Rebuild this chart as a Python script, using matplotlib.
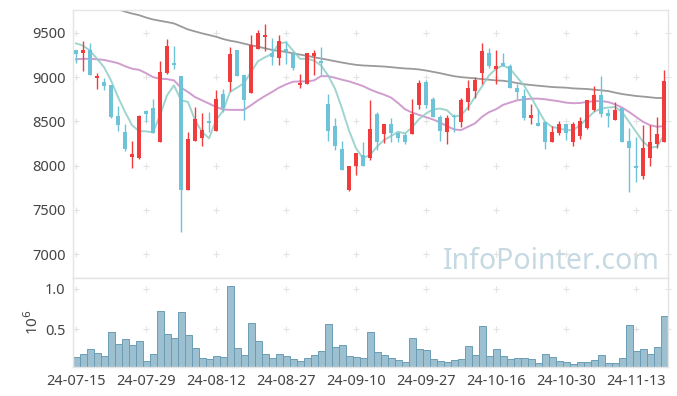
import numpy as np
import pandas as pd
import matplotlib
matplotlib.use('Agg')
import matplotlib.pyplot as plt

plt.rcParams['font.family'] = ['Noto Sans', 'DejaVu Sans']

# trading days (KRX holidays removed)
holidays = ['2024-08-15', '2024-09-16', '2024-09-17', '2024-09-18',
            '2024-10-01', '2024-10-03', '2024-10-09']
dates = pd.bdate_range('2024-07-15', '2024-11-19')
dates = dates[~dates.isin(pd.to_datetime(holidays))]

opens = [9313, 9272, 9313, 8991, 8942, 8908, 8560, 8380, 8103, 8088,
         8616, 8650, 8272, 9047, 9159, 9009, 7729, 8283, 8317, 8504,
         8395, 8807, 8946, 9313, 9021, 8826, 9316, 9451, 9275, 9215,
         9320, 9264, 8916, 8927, 9245, 9189, 8702, 8448, 8186, 7721,
         7991, 8122, 8092, 8583, 8354, 8466, 8373, 8347, 8358, 8684,
         8942, 8751, 8545, 8384, 8560, 8496, 8721, 8845, 9047, 9272,
         9088, 9159, 9122, 8882, 8785, 8541, 8478, 8496, 8272, 8365,
         8466, 8265, 8339, 8429, 8627, 8796, 8601, 8515, 8657, 8279,
         7998, 7878, 8092, 8245, 8272]
highs = [9313, 9406, 9388, 9051, 8994, 8908, 8676, 8466, 8279, 8575,
         8635, 8755, 9189, 9433, 9358, 9009, 8384, 8665, 8590, 8609,
         8852, 8863, 9346, 9313, 9021, 9481, 9534, 9601, 9444, 9478,
         9414, 9283, 9039, 9275, 9309, 9346, 8815, 8534, 8279, 7998,
         8141, 8272, 8747, 8609, 8466, 8534, 8384, 8366, 8758, 8972,
         8965, 8777, 8571, 8571, 8582, 8770, 8965, 9002, 9388, 9332,
         9309, 9275, 9152, 8920, 8871, 8702, 8646, 8496, 8448, 8504,
         8466, 8489, 8553, 8747, 8897, 9009, 8646, 8721, 8657, 8422,
         8328, 8459, 8459, 8552, 9084]
lows = [9163, 9069, 9024, 8871, 8852, 8534, 8395, 8170, 7972, 8070,
        8489, 8373, 8272, 9040, 9096, 7253, 7729, 8283, 8227, 8384,
        8395, 8609, 8841, 9013, 8515, 8826, 9316, 9301, 9133, 9133,
        9152, 9078, 8882, 8927, 9028, 9028, 8279, 8178, 7953, 7710,
        7890, 7991, 8066, 8178, 8253, 8272, 8272, 8246, 8358, 8646,
        8657, 8553, 8279, 8242, 8384, 8440, 8627, 8770, 8920, 9103,
        8927, 9122, 8882, 8758, 8515, 8466, 8452, 8186, 8272, 8347,
        8291, 8227, 8298, 8414, 8616, 8553, 8441, 8515, 8272, 7699,
        7816, 7848, 7991, 8197, 8272]
closes = [9260, 9313, 9024, 9013, 8901, 8553, 8459, 8189, 8127, 8560,
          8586, 8373, 9054, 9358, 9141, 7729, 8302, 8526, 8403, 8485,
          8758, 8654, 9257, 9013, 8747, 9369, 9504, 9481, 9227, 9414,
          9302, 9104, 8935, 9275, 9279, 9159, 8395, 8227, 7953, 7998,
          8141, 7991, 8414, 8272, 8466, 8373, 8317, 8272, 8583, 8935,
          8684, 8553, 8395, 8534, 8545, 8740, 8882, 8965, 9302, 9126,
          9122, 9126, 8882, 8833, 8541, 8571, 8452, 8272, 8377, 8466,
          8365, 8466, 8504, 8747, 8796, 8583, 8560, 8627, 8272, 8205,
          7972, 8204, 8269, 8358, 8953]
# volume in millions
volume = [0.153, 0.190, 0.252, 0.203, 0.165, 0.463, 0.314, 0.376, 0.302, 0.351,
          0.103, 0.190, 0.723, 0.438, 0.388, 0.711, 0.426, 0.264, 0.140, 0.128,
          0.165, 0.153, 1.033, 0.264, 0.178, 0.574, 0.351, 0.190, 0.140, 0.190,
          0.165, 0.128, 0.103, 0.140, 0.178, 0.227, 0.562, 0.277, 0.302, 0.165,
          0.153, 0.140, 0.463, 0.215, 0.178, 0.140, 0.116, 0.091, 0.388, 0.252,
          0.240, 0.128, 0.103, 0.091, 0.116, 0.128, 0.289, 0.178, 0.537, 0.165,
          0.252, 0.165, 0.128, 0.140, 0.140, 0.128, 0.079, 0.190, 0.153, 0.103,
          0.091, 0.066, 0.091, 0.091, 0.116, 0.178, 0.079, 0.079, 0.140, 0.550,
          0.227, 0.252, 0.190, 0.277, 0.661]
ma5 = [9383, 9357, 9301, 9208, 9114, 8964, 8776, 8608, 8458, 8391,
       8388, 8376, 8570, 8795, 8908, 8739, 8720, 8515, 8383, 8309,
       8515, 8620, 8833, 8882, 8934, 9058, 9181, 9226, 9264, 9383,
       9394, 9301, 9208, 9208, 9189, 9133, 9021, 8871, 8646, 8398,
       8197, 8084, 8121, 8215, 8290, 8335, 8383, 8365, 8432, 8526,
       8590, 8635, 8646, 8627, 8552, 8571, 8657, 8776, 8897, 9021,
       9096, 9133, 9096, 9001, 8908, 8776, 8635, 8496, 8440, 8421,
       8402, 8402, 8458, 8533, 8608, 8646, 8657, 8664, 8608, 8496,
       8383, 8271, 8203, 8215, 8346]
ma20 = [9203, 9208, 9208, 9203, 9196, 9178, 9159, 9125, 9096, 9084,
        9046, 9001, 8983, 8979, 8964, 8882, 8833, 8776, 8739, 8702,
        8664, 8635, 8631, 8631, 8631, 8683, 8739, 8788, 8833, 8882,
        8919, 8949, 8953, 8953, 8964, 9012, 9012, 8994, 8972, 8953,
        8927, 8900, 8862, 8830, 8803, 8770, 8709, 8638, 8601, 8574,
        8548, 8522, 8489, 8447, 8410, 8402, 8440, 8478, 8552, 8605,
        8638, 8687, 8713, 8739, 8749, 8758, 8758, 8751, 8739, 8728,
        8713, 8706, 8709, 8720, 8728, 8731, 8720, 8694, 8657, 8608,
        8552, 8496, 8458, 8440, 8447]
ma60 = [9900, 9878, 9856, 9834, 9812, 9790, 9768, 9742, 9720, 9702,
        9675, 9653, 9638, 9624, 9608, 9574, 9540, 9518, 9496, 9477,
        9458, 9432, 9413, 9399, 9380, 9361, 9346, 9327, 9309, 9298,
        9286, 9271, 9256, 9242, 9226, 9211, 9197, 9181, 9166, 9152,
        9140, 9133, 9129, 9125, 9121, 9114, 9106, 9099, 9095, 9088,
        9076, 9061, 9046, 9028, 9012, 9001, 8994, 8987, 8979, 8972,
        8964, 8960, 8949, 8934, 8921, 8912, 8904, 8897, 8889, 8885,
        8882, 8874, 8870, 8867, 8859, 8852, 8844, 8826, 8810, 8799,
        8788, 8781, 8773, 8765, 8765]

up_col = '#f03c3c'
down_col = '#6ec3d8'
spine_col = '#e4e4e4'
label_col = '#444444'

x = np.arange(len(closes))
o = np.array(opens); c = np.array(closes)
h = np.array(highs); l = np.array(lows)
cols = [up_col if cc >= oo else down_col for oo, cc in zip(o, c)]

fig = plt.figure(figsize=(6.77, 3.96), dpi=100)
ax = fig.add_axes([72.5 / 677, 1 - 278 / 396, 595 / 677, 268 / 396])
ax2 = fig.add_axes([72.5 / 677, 1 - 367 / 396, 595 / 677, 89 / 396])

# moving averages
ax.plot(x, ma60, color='#9a9a9a', lw=1.3, zorder=2)
ax.plot(x, ma20, color='#c98bc6', lw=1.4, alpha=0.85, zorder=2)
ax.plot(x, ma5, color='#8fcdc6', lw=1.4, alpha=0.85, zorder=2)

# candles
ax.vlines(x, l, h, colors=cols, lw=1.0, zorder=3)
body = np.maximum(np.abs(c - o), 12)
ax.bar(x, body, bottom=np.minimum(o, c), width=0.62, color=cols, lw=0, zorder=4)

ax.set_xlim(-0.5, len(x) - 0.5)
ax.set_ylim(6730, 9760)
ax.set_yticks([7000, 7500, 8000, 8500, 9000, 9500])
ax.set_xticks([])

# volume
ax2.bar(x, volume, width=1.0, color='#9cc0d0', edgecolor='#6a9db5', lw=0.7, zorder=2)
ax2.set_xlim(-0.5, len(x) - 0.5)
ax2.set_ylim(0.03, 1.136)
ax2.set_yticks([0.5, 1.0])
ax2.set_yticklabels(['0.5', '1.0'])
ax2.set_ylabel('10$^6$', color=label_col, fontsize=11, labelpad=2)

tick_pos = x[::10]
ax2.set_xticks(tick_pos)
ax2.set_xticklabels([dates[i].strftime('%y-%m-%d') for i in tick_pos])

# "+" grid markers
gx = list(tick_pos) + [len(x) - 0.5]
for a, ys in ((ax, [7000, 7500, 8000, 8500, 9000, 9500]), (ax2, [0.5, 1.0])):
    gxx, gyy = np.meshgrid(gx, ys)
    a.scatter(gxx.ravel(), gyy.ravel(), marker='+', s=16, color='#e3e3e3',
              lw=0.8, zorder=1, clip_on=False)
    for s in a.spines.values():
        s.set_color(spine_col)
        s.set_linewidth(1.0)
    a.tick_params(length=0, labelsize=10.5, colors=label_col, pad=5)
    a.set_facecolor('white')

ax.text(0.987, 0.035, 'InfoPointer.com', transform=ax.transAxes, ha='right',
        va='baseline', fontsize=20.5, color='#c6d9e2', zorder=0)

fig.savefig('out.png', dpi=100)
